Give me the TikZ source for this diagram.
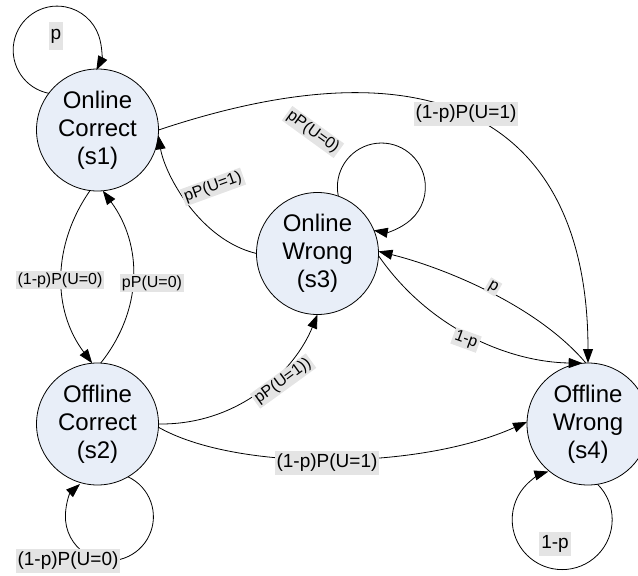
\documentclass[tikz,border=0pt]{standalone}
\usepackage{fontspec}
\setmainfont{Liberation Sans}
\usetikzlibrary{arrows.meta}
\definecolor{nodefill}{RGB}{232,238,248}
\definecolor{lblfill}{RGB}{228,228,228}
\tikzset{
  state/.style={circle, draw=black, line width=0.8pt, fill=nodefill, minimum size=122pt,
    inner sep=0pt, outer sep=0pt, align=center, font=\fontsize{24}{28}\selectfont},
  edge/.style={draw=black, line width=0.8pt, -{Triangle[length=14pt,width=10pt]}},
  lblbig/.style={fill=lblfill, inner xsep=2pt, inner ysep=3pt, font=\fontsize{19}{21}\selectfont},
  lblsmall/.style={fill=lblfill, inner xsep=2pt, inner ysep=1.5pt, font=\fontsize{16}{18}\selectfont}
}
\begin{document}
\begin{tikzpicture}[x=1pt,y=-1pt]
\useasboundingbox (0,0) rectangle (638,576);

\node[state] (s1) at (97.5,130) {Online\\Correct\\(s1)};
\node[state] (s2) at (97.5,424) {Offline\\Correct\\(s2)};
\node[state] (s3) at (317.5,253.5) {Online\\Wrong\\(s3)};
\node[state] (s4) at (588,424) {Offline\\Wrong\\(s4)};

% self loops
\draw[edge] (s1.143) arc[start angle=-101, end angle=-387, radius=44pt];
\draw[edge] (s3.70) arc[start angle=-168, end angle=-460, radius=44pt];
\draw[edge] (s2.-60) arc[start angle=65, end angle=-228, radius=44pt];
\draw[edge] (s4.-81) arc[start angle=45, end angle=-254, radius=50pt];

% edges
\draw[edge] (s1.0) .. controls (458,30) and (588,140) .. (s4.90);
\draw[edge] (s3.180) .. controls (200,240) and (165,175) .. (s1.-5);
\draw[edge] (s1.-97) .. controls (52,245) and (52,310) .. (s2.95);
\draw[edge] (s2.87) .. controls (143,310) and (143,245) .. (s1.-85);
\draw[edge] (s2.0) .. controls (240,425) and (295,370) .. (s3.-90);
\draw[edge] (s2.-3) .. controls (235,471) and (417,471) .. (s4.178);
\draw[edge] (s3.-2) .. controls (430,330) and (510,362) .. (s4.95);
\draw[edge] (s4.92) .. controls (535,303) and (438,266) .. (s3.2);

% labels
\node[lblbig, minimum height=28pt] (lp1) at (56,36) {p};
\node[lblbig] (l14) at (466,114) {(1-p)P(U=1)};
\node[lblsmall, rotate=-36] (l33) at (313,132) {pP(U=0)};
\node[lblsmall, rotate=20] (l31) at (213,187) {pP(U=1)};
\node[lblsmall] (l12) at (60,280) {(1-p)P(U=0)};
\node[lblsmall] (l21) at (152,283) {pP(U=0)};
\node[lblsmall, rotate=36] (l23) at (283,381) {pP(U=1))};
\node[lblbig] (l24) at (327,463) {(1-p)P(U=1)};
\node[lblsmall, rotate=-30] (l43) at (493,287) {p};
\node[lblsmall, rotate=-20] (l34) at (466,340) {1-p};
\node[lblbig] (l22) at (68,561) {(1-p)P(U=0)};
\node[lblbig] (l44) at (555,544) {1-p};
\end{tikzpicture}
\end{document}
